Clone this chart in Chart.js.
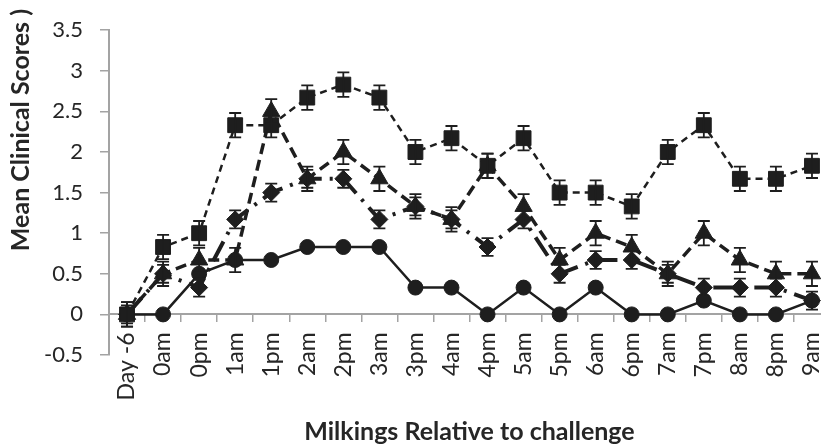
<!DOCTYPE html>
<html>
<head>
<meta charset="utf-8">
<script src="https://cdn.jsdelivr.net/npm/chart.js@4.4.1/dist/chart.umd.min.js"></script>
<style>
  html, body { margin: 0; padding: 0; background: #fff; overflow: hidden; }
  #wrap { position: relative; width: 860px; height: 448px; }
</style>
</head>
<body>
<div id="wrap"><canvas id="chart"></canvas></div>
<script>
// Milking time points
const categories = ['Day -6', '0am', '0pm', '1am', '1pm', '2am', '2pm', '3am', '3pm', '4am',
                    '4pm', '5am', '5pm', '6am', '6pm', '7am', '7pm', '8am', '8pm', '9am'];

// Mean clinical scores per group
const squareScores   = [0, 0.83, 1, 2.33, 2.33, 2.67, 2.83, 2.67, 2, 2.17, 1.83, 2.17, 1.5, 1.5, 1.33, 2, 2.33, 1.67, 1.67, 1.83];
const triangleScores = [0, 0.5, 0.67, 0.67, 2.5, 1.67, 2, 1.67, 1.33, 1.17, 1.83, 1.33, 0.67, 1, 0.83, 0.5, 1, 0.67, 0.5, 0.5];
const diamondScores  = [0, 0.5, 0.33, 1.17, 1.5, 1.67, 1.67, 1.17, 1.33, 1.17, 0.83, 1.17, 0.5, 0.67, 0.67, 0.5, 0.33, 0.33, 0.33, 0.17];
const circleScores   = [0, 0, 0.5, 0.67, 0.67, 0.83, 0.83, 0.83, 0.33, 0.33, 0, 0.33, 0, 0.33, 0, 0, 0.17, 0, 0, 0.17];

// Standard errors
const squareErr   = [0.15, 0.15, 0.15, 0.15, 0.15, 0.15, 0.15, 0.15, 0.15, 0.15, 0.15, 0.15, 0.15, 0.15, 0.15, 0.15, 0.15, 0.15, 0.15, 0.15];
const triangleErr = [0.15, 0.15, 0.15, 0.15, 0.15, 0.15, 0.15, 0.15, 0.15, 0.15, 0.15, 0.15, 0.15, 0.15, 0.15, 0.15, 0.15, 0.15, 0.15, 0.15];
const diamondErr  = [0.11, 0.11, 0.11, 0.11, 0.11, 0.11, 0.11, 0.11, 0.11, 0.11, 0.11, 0.11, 0.11, 0.11, 0.11, 0.11, 0.11, 0.11, 0.11, 0.11];

// Axis settings
const yMin = -0.5, yMax = 3.5, yStep = 0.5;
const xTitle = 'Milkings Relative to challenge';
const yTitle = 'Mean Clinical Scores )';

const INK = '#1e1e1e';
const TEXT = '#262626';
const AXIS_GREY = '#a3a3a3';
const FONT = 'Lato, "Open Sans", sans-serif';

// Vertical error bars with caps
const errorBars = {
  id: 'errorBars',
  afterDatasetsDraw(chart) {
    const { ctx } = chart;
    const y = chart.scales.y;
    chart.data.datasets.forEach((ds, di) => {
      if (!ds.errors) return;
      const meta = chart.getDatasetMeta(di);
      ctx.save();
      ctx.strokeStyle = INK;
      ctx.lineWidth = 1.8;
      meta.data.forEach((pt, i) => {
        const v = ds.data[i], e = ds.errors[i];
        const top = y.getPixelForValue(v + e);
        const bot = y.getPixelForValue(v - e);
        ctx.beginPath();
        ctx.moveTo(pt.x, top); ctx.lineTo(pt.x, bot);
        ctx.moveTo(pt.x - 6, top); ctx.lineTo(pt.x + 6, top);
        ctx.moveTo(pt.x - 6, bot); ctx.lineTo(pt.x + 6, bot);
        ctx.stroke();
      });
      ctx.restore();
    });
  }
};

// Rotated y-axis title, anchored near the top edge
const yAxisTitle = {
  id: 'yAxisTitle',
  afterDraw(chart) {
    const { ctx } = chart;
    ctx.save();
    ctx.translate(21, 9);
    ctx.rotate(-Math.PI / 2);
    ctx.font = 'bold 25px ' + FONT;
    ctx.fillStyle = TEXT;
    ctx.textAlign = 'right';
    ctx.textBaseline = 'middle';
    ctx.fillText(yTitle, 0, 0);
    ctx.restore();
  }
};

const common = {
  borderColor: INK,
  backgroundColor: INK,
  pointBackgroundColor: INK,
  pointBorderColor: INK,
  pointBorderWidth: 1,
  fill: false,
  tension: 0,
  borderCapStyle: 'butt'
};

new Chart(document.getElementById('chart'), {
  type: 'line',
  data: {
    labels: categories,
    datasets: [
      { ...common, label: 'Group A', data: squareScores, errors: squareErr,
        pointStyle: 'rect', pointRadius: 10.5, borderWidth: 2.5, borderDash: [7, 5] },
      { ...common, label: 'Group B', data: triangleScores, errors: triangleErr,
        pointStyle: 'triangle', pointRadius: 10, borderWidth: 3.5, borderDash: [11, 6] },
      { ...common, label: 'Group C', data: diamondScores, errors: diamondErr,
        pointStyle: 'rectRot', pointRadius: 8.5, borderWidth: 4, borderDash: [22, 8, 3, 8] },
      { ...common, label: 'Group D', data: circleScores,
        pointStyle: 'circle', pointRadius: 7.5, borderWidth: 2.5 }
    ]
  },
  options: {
    responsive: true,
    maintainAspectRatio: false,
    animation: false,
    layout: { padding: { left: 0, right: 30, top: 30, bottom: 93 } },
    plugins: { legend: { display: false }, tooltip: { enabled: false } },
    scales: {
      x: {
        type: 'category',
        position: { y: 0 },
        offset: true,
        grid: { display: true, drawOnChartArea: false, drawTicks: true, tickLength: 7,
                offset: true, color: AXIS_GREY, lineWidth: 1.5 },
        border: { display: true, color: AXIS_GREY, width: 2 },
        ticks: { autoSkip: false, minRotation: 90, maxRotation: 90, padding: 11,
                 color: TEXT, font: { family: FONT, size: 23 } },
        title: { display: true, text: xTitle, color: TEXT,
                 font: { family: FONT, size: 25, weight: 'bold' },
                 padding: { top: 0, bottom: -40 } },
        afterFit(scale) { scale.height = 93; }
      },
      y: {
        min: yMin,
        max: yMax,
        ticks: { stepSize: yStep, padding: 17, color: TEXT,
                 font: { family: FONT, size: 22 },
                 callback: v => String(Number(v.toFixed(1))) },
        grid: { display: true, drawOnChartArea: false, drawTicks: true, tickLength: 9,
                color: AXIS_GREY, lineWidth: 1.5 },
        border: { display: true, color: AXIS_GREY, width: 2 },
        afterFit(scale) { scale.width = 109; }
      }
    }
  },
  plugins: [errorBars, yAxisTitle]
});
</script>
</body>
</html>
